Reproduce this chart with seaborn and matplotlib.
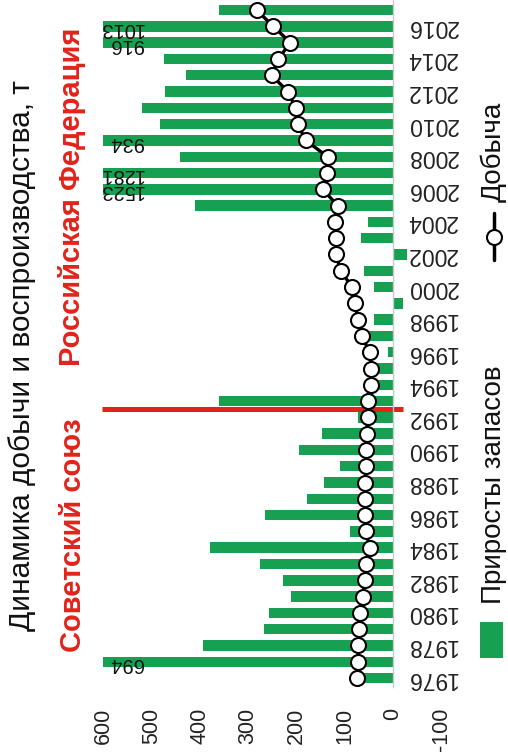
import numpy as np
import pandas as pd
import matplotlib
matplotlib.use("Agg")
import matplotlib.pyplot as plt
import seaborn as sns
from matplotlib.patches import Rectangle
from matplotlib.lines import Line2D

# ---------------- data ----------------
years = list(range(1976, 2018))
reserves_growth = [65, 694, 393, 266, 257, 211, 227, 274, 379, 89,
                   265, 178, 142, 109, 194, 147, 71, 360, 35, 35,
                   10, 49, 38, -21, 39, 60, -30, 66, 51, 410,
                   1523, 1281, 440, 934, 482, 520, 472, 429, 473, 916,
                   1013, 360]
production = [75, 72, 71, 70, 68, 62, 58, 55, 48, 55,
              57, 57, 57, 56, 55, 54, 52, 52, 46, 44,
              48, 64, 71, 79, 84, 108, 117, 118, 120, 114,
              145, 137, 135, 180, 197, 201, 217, 251, 237, 212,
              247, 282]
value_ticks = [600, 500, 400, 300, 200, 100, 0, -100]
year_ticks = list(range(1976, 2017, 2))

title = "Динамика добычи и воспроизводства, т"
label_ussr = "Советский союз"
label_rf = "Российская Федерация"
legend_bar = "Приросты запасов"
legend_line = "Добыча"
divide_year = 1992.5

# ---------------- style ----------------
GREEN = "#17a052"
RED = "#e2231a"
W, H = 508, 755
X_MAX, X_MIN = 600, -100

sns.set_style("white")
plt.rcParams["font.family"] = ["Liberation Sans", "DejaVu Sans"]

fig = plt.figure(figsize=(W / 100, H / 100), dpi=100)


def fx(px):
    return px / W


def fy(py):
    return 1 - py / H


ax = fig.add_axes([fx(103), fy(687), (441 - 103) / W, 687 / H])

df = pd.DataFrame({"year": years, "growth": reserves_growth, "prod": production})

sns.barplot(data=df, x="growth", y="year", orient="h", native_scale=True,
            color=GREEN, saturation=1, width=0.64, errorbar=None,
            linewidth=0, ax=ax, zorder=1)

ax.plot([603, -21], [divide_year, divide_year], color=RED, lw=3.6,
        solid_capstyle="butt", clip_on=False, zorder=2)

sns.lineplot(data=df, x="prod", y="year", sort=False, estimator=None,
             color="black", linewidth=2.4, marker="o", markersize=10.8,
             markerfacecolor="white", markeredgecolor="black",
             markeredgewidth=1.5, ax=ax, zorder=3)

ax.set_xlim(X_MAX, X_MIN)
ax.set_ylim(1975.45, 2017.62)
ax.set_xlabel("")
ax.set_ylabel("")

# value labels for bars exceeding the axis
for yr, v in zip(years, reserves_growth):
    if v > X_MAX:
        ax.text(517, yr - 0.1, str(v), rotation=180, ha="right", va="center",
                fontsize=14.5, color="#111111", zorder=4,
                family=["Liberation Sans", "DejaVu Sans"])

# axes styling
for s in ["top", "left", "bottom"]:
    ax.spines[s].set_visible(False)
ax.spines["right"].set_position(("data", 0))
ax.spines["right"].set_color("#c8c8c8")
ax.spines["right"].set_linewidth(1.0)

ax.set_xticks(value_ticks)
ax.set_xticklabels([str(v) for v in value_ticks], rotation=90)
ax.tick_params(axis="x", length=0, pad=15, labelsize=15.5, labelcolor="#222222")

ax.yaxis.tick_right()
ax.set_yticks(year_ticks)
ax.set_yticklabels([str(y) for y in year_ticks], rotation=180, va="center")
ax.tick_params(axis="y", length=0, pad=10, labelsize=16.5, labelcolor="#222222")
ax.grid(False)

# titles / annotations
fig.text(fx(22), fy(356), title, rotation=90, ha="center", va="center",
         fontsize=21.5, color="#111111")
fig.text(fx(73), fy(535), label_ussr, rotation=90, ha="center", va="center",
         fontsize=21, fontweight="bold", color=RED)
fig.text(fx(72), fy(196.5), label_rf, rotation=90, ha="center", va="center",
         fontsize=21, fontweight="bold", color=RED)

# legend (drawn manually, rotated)
fig.patches.append(Rectangle((fx(480), fy(658)), 23 / W, 36 / H,
                             transform=fig.transFigure, facecolor=GREEN,
                             edgecolor="none"))
fig.text(fx(494), fy(485), legend_bar, rotation=90, ha="center", va="center",
         fontsize=20, color="#111111")
fig.lines.append(Line2D([fx(494), fx(494)], [fy(260), fy(213)],
                        transform=fig.transFigure, color="black", lw=2.5))
fig.lines.append(Line2D([fx(494)], [fy(236.5)], transform=fig.transFigure,
                        marker="o", markersize=10.8, markerfacecolor="white",
                        markeredgecolor="black", markeredgewidth=1.5,
                        linestyle="none"))
fig.text(fx(494), fy(151.5), legend_line, rotation=90, ha="center", va="center",
         fontsize=20, color="#111111")

fig.savefig("out.png", dpi=100, facecolor="white")
